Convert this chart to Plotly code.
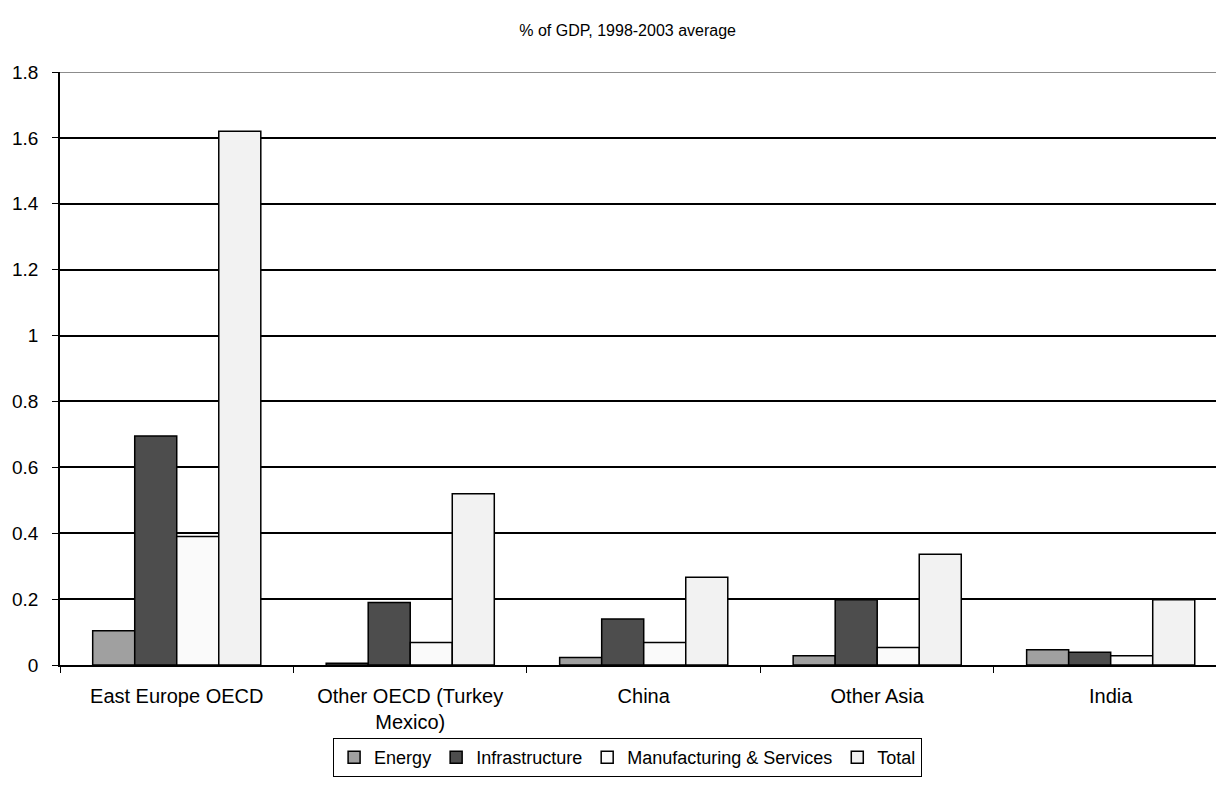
import plotly.graph_objects as go

# Regions and investment shares (% of GDP, 1998-2003 average)
regions = ["East Europe OECD", "Other OECD (Turkey<br>Mexico)", "China", "Other Asia", "India"]
energy = [0.104, 0.005, 0.023, 0.028, 0.046]
infrastructure = [0.695, 0.190, 0.140, 0.198, 0.039]
manufacturing_services = [0.390, 0.068, 0.068, 0.053, 0.028]
total = [1.62, 0.52, 0.266, 0.336, 0.198]

y_ticks = [0, 0.2, 0.4, 0.6, 0.8, 1, 1.2, 1.4, 1.6, 1.8]
y_tick_text = ["0", "0.2", "0.4", "0.6", "0.8", "1", "1.2", "1.4", "1.6", "1.8"]

series = [
    ("Energy", energy, "#A0A0A0"),
    ("Infrastructure", infrastructure, "#4D4D4D"),
    ("Manufacturing & Services", manufacturing_services, "#FAFAFA"),
    ("Total", total, "#F2F2F2"),
]

FONT = "Liberation Sans, Arial, sans-serif"

fig = go.Figure()
for name, vals, color in series:
    fig.add_trace(go.Bar(
        name=name,
        x=regions,
        y=vals,
        marker=dict(color=color, line=dict(color="#000000", width=1.5)),
    ))

# top border of the plot area is drawn as a grey rule
fig.add_shape(
    type="line", xref="paper", yref="y",
    x0=0, x1=1, y0=y_ticks[-1], y1=y_ticks[-1],
    line=dict(color="#8C8C8C", width=2), layer="below",
)

fig.update_layout(
    width=1216,
    height=803,
    barmode="group",
    bargap=0.28,
    bargroupgap=0,
    plot_bgcolor="#FFFFFF",
    paper_bgcolor="#FFFFFF",
    font=dict(family=FONT, size=18, color="#000000"),
    margin=dict(l=60, r=0, t=72, b=138),
    title=dict(
        text="% of GDP, 1998-2003 average",
        x=0.491, xanchor="center", xref="paper",
        y=0.962, yanchor="middle", yref="container",
        font=dict(family=FONT, size=16, color="#000000"),
    ),
    showlegend=True,
    legend=dict(
        orientation="h",
        x=0.491, xanchor="center",
        y=-0.123, yanchor="top",
        bordercolor="#000000", borderwidth=1,
        bgcolor="#FFFFFF",
        font=dict(family=FONT, size=18, color="#000000"),
        itemwidth=30,
        traceorder="normal",
    ),
)

fig.update_xaxes(
    range=[-0.5, 4.451],
    showline=True, linecolor="#000000", linewidth=1.5,
    ticks="outside", tickson="boundaries", ticklen=6, tickcolor="#000000",
    ticklabelstandoff=12,
    showgrid=False,
    tickfont=dict(family=FONT, size=20, color="#000000"),
)

fig.update_yaxes(
    range=[0, 1.8],
    tickvals=y_ticks, ticktext=y_tick_text,
    showline=True, linecolor="#000000", linewidth=1.5,
    ticks="outside", ticklen=6, tickcolor="#000000",
    ticklabelstandoff=10,
    showgrid=True, gridcolor="#000000", gridwidth=1.5,
    zeroline=False,
    tickfont=dict(family=FONT, size=19, color="#000000"),
)

fig.write_html("out.html")
